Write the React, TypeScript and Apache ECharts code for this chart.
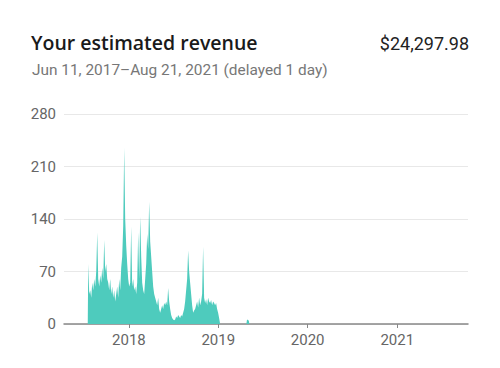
import React, { useEffect, useRef } from "react";
import * as echarts from "echarts";

// Revenue series: one value per ~4.08 days starting at 2017-07-19
const seriesStart = "2017-07-19";
const stepDays = 4.08;
const revenueValues = [
  80, 40, 45, 35, 55, 45, 60, 50, 70, 122,
  60, 50, 65, 55, 75, 60, 112, 70, 80, 60,
  55, 45, 60, 40, 50, 35, 45, 30, 40, 50,
  35, 60, 45, 75, 90, 130, 235, 140, 105, 80,
  60, 50, 55, 130, 50, 60, 45, 50, 40, 55,
  122, 60, 143, 90, 55, 45, 40, 60, 80, 120,
  100, 163, 110, 90, 70, 50, 40, 35, 30, 25,
  35, 20, 15, 20, 25, 20, 28, 25, 30, 25,
  48, 30, 20, 12, 8, 6, 5, 6, 10, 8,
  12, 10, 8, 12, 10, 15, 20, 30, 45, 60,
  98, 70, 55, 40, 25, 15, 18, 20, 25, 30,
  22, 35, 25, 30, 40, 103, 35, 28, 33, 25,
  35, 30, 28, 32, 25, 30, 28, 25, 28, 20,
  15, 8, 0,
];
// Isolated small blip in spring 2019
const blipDates = ["2019-04-26", "2019-04-28", "2019-05-02", "2019-05-06", "2019-05-08"];
const blipValues = [0, 5, 6, 4, 0];
const rangeStart = "2017-06-11";
const rangeEnd = "2021-08-21";

const yTicks = [0, 70, 140, 210, 280];
const yearTicks = ["2018-01-01", "2019-01-01", "2020-01-01", "2021-01-01"];
const axisMin = "2017-04-11";
const axisMax = "2021-10-17";

const DAY = 86400000;
const ms = (d: string) => new Date(d + "T00:00:00Z").getTime();

export default function App() {
  const ref = useRef<HTMLDivElement>(null);
  useEffect(() => {
    if (!ref.current) return;
    const chart = echarts.init(ref.current, null, { renderer: "svg" });
    const startMs = ms(seriesStart);
    const data: [number, number][] = [];
    data.push([ms(rangeStart), 0]);
    data.push([startMs - 2 * DAY, 0]);
    revenueValues.forEach((v, i) => data.push([startMs + i * stepDays * DAY, v]));
    blipDates.forEach((d, i) => data.push([ms(d), blipValues[i]]));
    data.push([ms(rangeEnd), 0]);
    const yearMs = yearTicks.map(ms);

    chart.setOption({
      animation: false,
      backgroundColor: "#ffffff",
      graphic: [
        {
          type: "text",
          x: 31,
          y: 42,
          style: {
            text: "Your estimated revenue",
            font: "600 19.5px 'Open Sans'",
            fill: "#1a1a1a",
            verticalAlign: "middle",
            align: "left",
          },
        },
        {
          type: "text",
          x: 469,
          y: 43,
          style: {
            text: "$24,297.98",
            font: "18px Roboto",
            fill: "#222222",
            verticalAlign: "middle",
            align: "right",
          },
        },
        {
          type: "text",
          x: 32,
          y: 70,
          style: {
            text: "Jun 11, 2017\u2013Aug 21, 2021 (delayed 1 day)",
            font: "15.4px Roboto",
            fill: "#777777",
            verticalAlign: "middle",
            align: "left",
          },
        },
      ],
      grid: { left: 64, right: 32, top: 114, bottom: 44, containLabel: false },
      xAxis: {
        type: "value",
        min: ms(axisMin),
        max: ms(axisMax),
        axisLine: { show: true, lineStyle: { color: "#888888", width: 1.5 } },
        axisTick: { show: true, length: 4, lineStyle: { color: "#888888" }, customValues: yearMs },
        axisLabel: {
          color: "#666666",
          fontSize: 15,
          fontFamily: "Roboto",
          margin: 8,
          customValues: yearMs,
          formatter: (v: number) => String(new Date(v).getUTCFullYear()),
        },
        splitLine: { show: false },
      },
      yAxis: {
        type: "value",
        min: yTicks[0],
        max: yTicks[yTicks.length - 1],
        interval: 70,
        axisLine: { show: false },
        axisTick: { show: false },
        axisLabel: { color: "#666666", fontSize: 15, fontFamily: "Roboto", margin: 8 },
        splitLine: { lineStyle: { color: "#e8e8e8", width: 1 } },
      },
      series: [
        {
          type: "line",
          data,
          showSymbol: false,
          symbol: "none",
          lineStyle: { width: 0 },
          areaStyle: { color: "#4ecbbd", opacity: 1 },
          z: 1,
        },
      ],
    });
    return () => chart.dispose();
  }, []);
  return <div ref={ref} style={{ width: 500, height: 368, position: "absolute", left: 0, top: 0 }} />;
}
